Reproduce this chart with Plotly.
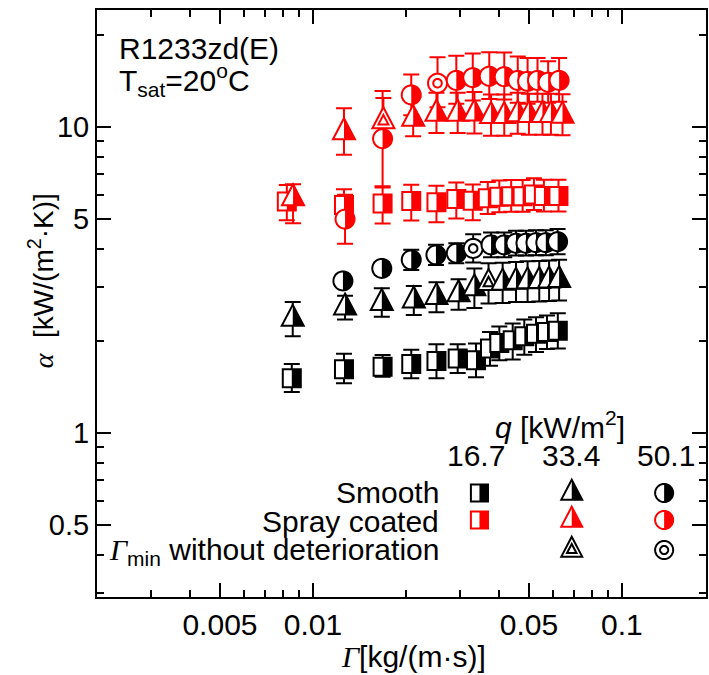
import math
import plotly.graph_objects as go

# ---- film flow rate Γ [kg/(m·s)] and heat transfer coefficient α [kW/(m²·K)] ----
# Smooth tube
gam_smooth_167 = [0.00854, 0.0126, 0.0168, 0.0208, 0.0251, 0.0294, 0.0337, 0.0374, 0.0401, 0.0443, 0.0483, 0.0527, 0.0572, 0.0620]
alp_smooth_167 = [1.51, 1.615, 1.647, 1.68, 1.72, 1.75, 1.73, 1.89, 1.97, 2.01, 2.07, 2.11, 2.14, 2.16]
errp_smooth_167 = [0.17, 0.20, 0.15, 0.19, 0.23, 0.20, 0.23, 0.25, 0.26, 0.27, 0.28, 0.28, 0.28, 0.30]
errm_smooth_167 = [0.15, 0.16, 0.12, 0.17, 0.21, 0.18, 0.21, 0.23, 0.24, 0.27, 0.27, 0.27, 0.26, 0.27]

gam_smooth_334 = [0.0086, 0.0127, 0.0167, 0.0212, 0.0251, 0.0296, 0.0333, 0.0370, 0.0411, 0.0454, 0.0495, 0.0540, 0.0581, 0.0626]
alp_smooth_334 = [2.36, 2.57, 2.66, 2.71, 2.78, 2.84, 2.97, 3.09, 3.10, 3.12, 3.13, 3.14, 3.15, 3.16]
errp_smooth_334 = [0.32, 0.24, 0.31, 0.31, 0.33, 0.34, 0.48, 0.50, 0.50, 0.50, 0.51, 0.51, 0.51, 0.52]
errm_smooth_334 = [0.29, 0.22, 0.26, 0.28, 0.30, 0.31, 0.41, 0.44, 0.44, 0.44, 0.45, 0.45, 0.45, 0.45]
gmin_smooth_334 = 7  # index of Γmin without deterioration

gam_smooth_501 = [0.0125, 0.0167, 0.0208, 0.0250, 0.0291, 0.0330, 0.0377, 0.0416, 0.0454, 0.0489, 0.0527, 0.0567, 0.0619]
alp_smooth_501 = [3.14, 3.45, 3.68, 3.82, 3.87, 4.01, 4.12, 4.12, 4.17, 4.17, 4.19, 4.19, 4.22]
errp_smooth_501 = [0.15, 0.17, 0.29, 0.30, 0.30, 0.45, 0.40, 0.40, 0.41, 0.41, 0.41, 0.41, 0.42]
errm_smooth_501 = [0.14, 0.16, 0.27, 0.28, 0.28, 0.40, 0.37, 0.37, 0.37, 0.37, 0.38, 0.38, 0.38]
gmin_smooth_501 = 5

# Spray coated tube
gam_spray_167 = [0.00823, 0.0126, 0.0168, 0.0208, 0.0251, 0.0291, 0.0329, 0.0368, 0.0401, 0.0438, 0.0477, 0.0519, 0.0559, 0.0623]
alp_spray_167 = [5.71, 5.56, 5.62, 5.73, 5.68, 5.82, 5.74, 5.85, 5.92, 5.94, 5.94, 6.02, 5.95, 5.95]
errp_spray_167 = [0.75, 0.70, 0.72, 0.74, 0.75, 0.76, 0.75, 0.76, 0.77, 0.77, 0.77, 0.78, 0.77, 0.77]
errm_spray_167 = [0.75, 0.74, 0.78, 0.78, 0.80, 0.80, 0.78, 0.65, 0.66, 0.66, 0.66, 0.67, 0.66, 0.66]

gam_spray_334 = [0.00862, 0.0126, 0.0169, 0.0211, 0.0251, 0.0294, 0.0333, 0.0377, 0.0416, 0.0460, 0.0500, 0.0553, 0.0589, 0.0642]
alp_spray_334 = [5.85, 9.61, 10.44, 10.63, 11.05, 11.05, 11.07, 10.86, 10.86, 11.0, 10.94, 10.94, 10.94, 10.89]
errp_spray_334 = [0.65, 1.9, 2.0, 1.9, 1.9, 1.9, 1.95, 1.9, 1.9, 1.95, 1.9, 1.9, 1.9, 1.9]
errm_spray_334 = [1.0, 1.5, 1.6, 1.3, 1.5, 1.5, 1.55, 1.5, 1.5, 1.5, 1.5, 1.5, 1.5, 1.5]
gmin_spray_334 = 2

gam_spray_501 = [0.0127, 0.0168, 0.0208, 0.0253, 0.0291, 0.0329, 0.0372, 0.0416, 0.0460, 0.0495, 0.0533, 0.0577, 0.0626]
alp_spray_501 = [5.0, 9.16, 12.73, 13.9, 14.2, 14.5, 14.65, 14.6, 14.2, 14.1, 14.2, 14.0, 14.2]
errp_spray_501 = [1.0, 3.95, 2.1, 3.0, 2.9, 2.9, 2.9, 2.9, 2.8, 2.7, 2.6, 2.4, 2.6]
errm_spray_501 = [0.85, 2.76, 1.8, 2.3, 2.3, 2.3, 2.3, 2.3, 2.2, 2.2, 2.1, 2.0, 2.1]
gmin_spray_501 = 3

heat_flux_labels = ["16.7", "33.4", "50.1"]
surface_labels = ["Smooth", "Spray coated"]

x_tickvals = [0.005, 0.01, 0.05, 0.1]
x_ticktext = ["0.005", "0.01", "0.05", "0.1"]
x_minor = [0.003, 0.004, 0.006, 0.007, 0.008, 0.009, 0.02, 0.03, 0.04, 0.06, 0.07, 0.08, 0.09]
y_tickvals = [0.5, 1, 5, 10]
y_ticktext = ["0.5", "1", "5", "10"]
y_minor = [0.3, 0.4, 0.6, 0.7, 0.8, 0.9, 2, 3, 4, 6, 7, 8, 9, 20]

BLACK = "#000000"
RED = "#ff0000"
FONT = "Liberation Sans, Arial, sans-serif"
SERIF = "Liberation Serif, Times New Roman, serif"

# ---- plot geometry ----
W, H = 709, 675
ML, MR, MT, MB = 97, 1, 10, 78
PW, PH = W - ML - MR, H - MT - MB
X_DEC, Y_DEC = 310.0, 306.0          # pixels per decade
x_lo = math.log10(0.002)
y_lo = -0.536
x_range = [x_lo, x_lo + PW / X_DEC]
y_range = [y_lo, y_lo + PH / Y_DEC]


def px(x):
    return (x - ML) / PW


def py(y):
    return (H - MB - y) / PH


# ---- marker outlines (pixel offsets, y up) ----
def poly_path(pts):
    return "M" + "L".join(f"{a:.2f},{b:.2f}" for a, b in pts) + "Z"


def circle_pts(r, a0=0, a1=360, n=48):
    return [(r * math.cos(math.radians(a0 + (a1 - a0) * i / n)),
             r * math.sin(math.radians(a0 + (a1 - a0) * i / n))) for i in range(n + 1)]


def marker_geom(kind, s=1.0):
    if kind == "square":
        h = 9 * s
        full = [(-h, -h), (h, -h), (h, h), (-h, h)]
        half = [(0, -h), (h, -h), (h, h), (0, h)]
    elif kind == "triangle":
        t, b, w = 14 * s, -7 * s, 11 * s
        full = [(0, t), (w, b), (-w, b)]
        half = [(0, t), (w, b), (0, b)]
    else:
        r = 9.5 * s
        full = circle_pts(r)
        half = circle_pts(r, 90, -90, 24)
    return full, half


def marker_shapes(kind, x, y, color, ref=("x", "y"), s=1.0, gmin=False):
    full, half = marker_geom(kind, s)
    base = dict(type="path", xref=ref[0], yref=ref[1], xsizemode="pixel",
                ysizemode="pixel", xanchor=x, yanchor=y, layer="above")
    out = [dict(base, path=poly_path(full), fillcolor="white",
                line=dict(color=color, width=2))]
    if gmin:
        if kind == "triangle":
            inner = [(a * 0.45, b * 0.45) for a, b in full]
        else:
            inner = circle_pts(9.5 * s * 0.45)
        out.append(dict(base, path=poly_path(inner), fillcolor="white",
                        line=dict(color=color, width=2)))
    else:
        out.append(dict(base, path=poly_path(half), fillcolor=color,
                        line=dict(color=color, width=0)))
    return out


series = [
    ("square", BLACK, gam_smooth_167, alp_smooth_167, errp_smooth_167, errm_smooth_167, None),
    ("triangle", BLACK, gam_smooth_334, alp_smooth_334, errp_smooth_334, errm_smooth_334, gmin_smooth_334),
    ("circle", BLACK, gam_smooth_501, alp_smooth_501, errp_smooth_501, errm_smooth_501, gmin_smooth_501),
    ("square", RED, gam_spray_167, alp_spray_167, errp_spray_167, errm_spray_167, None),
    ("triangle", RED, gam_spray_334, alp_spray_334, errp_spray_334, errm_spray_334, gmin_spray_334),
    ("circle", RED, gam_spray_501, alp_spray_501, errp_spray_501, errm_spray_501, gmin_spray_501),
]

fig = go.Figure()
shapes = []
for kind, color, g, a, ep, em, gi in series:
    fig.add_trace(go.Scatter(
        x=g, y=a, mode="markers",
        marker=dict(size=2, color="rgba(0,0,0,0)"),
        error_y=dict(type="data", symmetric=False, array=ep, arrayminus=em,
                     color=color, thickness=2, width=8),
        showlegend=False, hoverinfo="skip"))
    for i, (xv, yv) in enumerate(zip(g, a)):
        shapes += marker_shapes(kind, xv, yv, color, gmin=(i == gi))

# ---- legend block ----
leg_x = [px(480.7), px(573.3), px(666)]
leg_y = [py(493), py(520), py(550)]
kinds = ["square", "triangle", "circle"]
for j, kind in enumerate(kinds):
    for r, color in enumerate([BLACK, RED]):
        shapes += marker_shapes(kind, leg_x[j], leg_y[r], color, ref=("paper", "paper"), s=0.95)
for j in (1, 2):
    shapes += marker_shapes(kinds[j], leg_x[j], leg_y[2], BLACK, ref=("paper", "paper"), s=0.95, gmin=True)

ann = []
tf = dict(family=FONT, size=30, color="black")
ann.append(dict(text="R1233zd(E)", x=px(117), y=py(48), xanchor="left", yanchor="middle"))
ann.append(dict(text="T<sub>sat</sub>=20<sup>o</sup>C", x=px(117), y=py(80), xanchor="left", yanchor="middle"))
ann.append(dict(text="<i>q</i> [kW/m<sup>2</sup>]", x=px(562), y=py(425), xanchor="center", yanchor="middle"))
for lab, xx in zip(heat_flux_labels, [477.5, 572.7, 668]):
    ann.append(dict(text=lab, x=px(xx), y=py(455), xanchor="center", yanchor="middle"))
ann.append(dict(text=surface_labels[0], x=px(442), y=py(492), xanchor="right", yanchor="middle"))
ann.append(dict(text=surface_labels[1], x=px(442), y=py(521.5), xanchor="right", yanchor="middle"))
ann.append(dict(text=f"<span style='font-family:{SERIF}'><i>Γ</i></span><sub>min</sub> without deterioration",
                x=px(442), y=py(551), xanchor="right", yanchor="middle"))
# axis titles
ann.append(dict(text=f"<span style='font-family:{SERIF}'><i>Γ</i></span>[kg/(m·s)]",
                x=px(415), y=py(656), xanchor="center", yanchor="middle",
                font=dict(family=FONT, size=30, color="black")))
ann.append(dict(text=f"<span style='font-family:{SERIF}'><i>α</i></span>  [kW/(m<sup>2</sup>·K)]",
                x=px(41), y=py(281), xanchor="center", yanchor="middle", textangle=-90,
                font=dict(family=FONT, size=28, color="black")))
for a_ in ann:
    a_.update(xref="paper", yref="paper", showarrow=False)
    a_.setdefault("font", tf)

axis_common = dict(
    type="log", showline=True, linewidth=2, linecolor="black", mirror="ticks",
    ticks="inside", ticklen=14, tickwidth=2, tickcolor="black",
    showgrid=False, zeroline=False,
)
fig.update_layout(
    width=W, height=H, margin=dict(l=ML, r=MR, t=MT, b=MB),
    paper_bgcolor="white", plot_bgcolor="white",
    showlegend=False, shapes=shapes, annotations=ann,
    xaxis=dict(axis_common, range=x_range, tickvals=x_tickvals, ticktext=x_ticktext,
               tickfont=dict(family=FONT, size=30, color="black"),
               minor=dict(tickvals=x_minor, ticks="inside", ticklen=7, tickwidth=2,
                          tickcolor="black", showgrid=False)),
    yaxis=dict(axis_common, range=y_range, tickvals=y_tickvals, ticktext=y_ticktext,
               tickfont=dict(family=FONT, size=29, color="black"),
               minor=dict(tickvals=y_minor, ticks="inside", ticklen=7, tickwidth=2,
                          tickcolor="black", showgrid=False)),
)

fig.write_html("out.html")
